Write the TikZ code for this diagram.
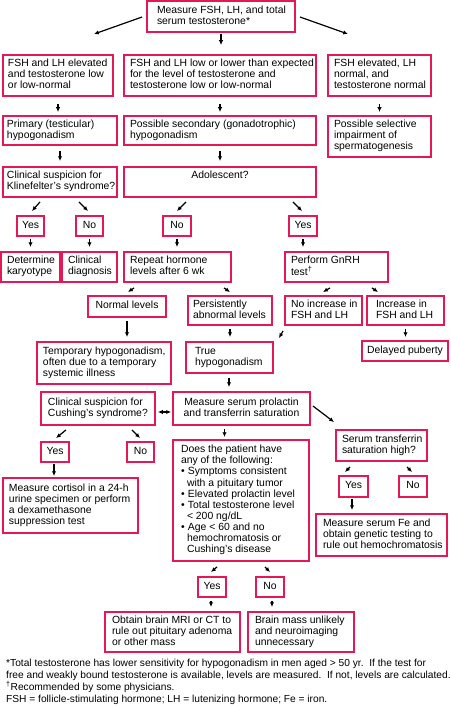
\documentclass[tikz,border=0pt]{standalone}
\usepackage{fontspec}
\setmainfont{Liberation Sans}
\usetikzlibrary{arrows.meta}
\definecolor{boxred}{RGB}{227,24,85}
\tikzset{
  box/.style={draw=boxred, line width=1.9bp, inner xsep=0pt, inner ysep=0pt,
    font=\fontsize{10.4bp}{11.1bp}\selectfont},
  arr/.style={-{Latex[length=4.8bp,width=4.3bp]}, line width=1.2bp, shorten <=3bp, shorten >=4bp},
  arrd/.style={-{Latex[length=4.8bp,width=4.3bp]}, line width=1.2bp},
  darr/.style={{Latex[length=4.8bp,width=4.3bp]}-{Latex[length=4.8bp,width=4.3bp]}, line width=1.2bp},
  foot/.style={anchor=base west, inner sep=0pt, font=\fontsize{10.2bp}{12bp}\selectfont},
}
\newcommand\boxnode[7][5]{\node[box, minimum width={(#5-#3)*1bp},
  minimum height={(#6-#4)*1bp}] (#2) at ({(#3+#5)/2},{(#4+#6)/2})
  {\hbox to \dimexpr#5bp-#3bp\relax{\hskip#1bp\relax\begin{tabular}{@{}l@{}}#7\end{tabular}\hss}};}
\newcommand\boxnodec[6]{\node[box, minimum width={(#4-#2)*1bp},
  minimum height={(#5-#3)*1bp}] (#1) at ({(#2+#4)/2},{(#3+#5)/2})
  {\begin{tabular}{@{}c@{}}#6\end{tabular}};}
\begin{document}
\begin{tikzpicture}[x=1bp,y=-1bp]
\useasboundingbox (0,0) rectangle (451,707);
% boxes
\boxnode[10]{top}{147}{1}{295}{32}{Measure FSH, LH, and total\\serum testosterone*}
\boxnode[5]{r2a}{3}{55}{113}{96}{FSH and LH elevated\\and testosterone low\\or low-normal}
\boxnode[6]{r2b}{124}{55}{316}{96}{FSH and LH low or lower than expected\\for the level of testosterone and\\testosterone low or low-normal}
\boxnode[6]{r2c}{328}{55}{431}{96}{FSH elevated, LH\\normal, and\\testosterone normal}
\boxnode[4]{r3a}{3}{116}{117}{145}{Primary (testicular)\\hypogonadism}
\boxnode[6]{r3b}{124}{116}{316}{145}{Possible secondary (gonadotrophic)\\hypogonadism}
\boxnode[6]{r3c}{328}{116}{431}{157}{Possible selective\\impairment of\\spermatogenesis}
\boxnode[4]{kl}{3}{167}{117}{197}{Clinical suspicion for\\Klinefelter's syndrome?}
\boxnodec{ado}{124}{167}{316}{197}{\raisebox{12bp}{Adolescent?}}
\boxnodec{klyes}{17}{216}{44}{236}{Yes}
\boxnodec{klno}{76}{216}{103}{236}{No}
\boxnodec{adono}{163}{216}{191}{236}{No}
\boxnodec{adoyes}{289}{216}{317}{236}{Yes}
\boxnode[6]{kary}{1}{252}{60}{282}{Determine\\karyotype}
\boxnode[6]{cdx}{62}{252}{117}{282}{Clinical\\diagnosis}
\boxnode[6]{rep}{124}{252}{231}{282}{Repeat hormone\\levels after 6 wk}
\boxnode[6]{gnrh}{285}{252}{388}{282}{Perform GnRH\\test\textsuperscript{†}}
\boxnodec{norm}{88}{296}{166}{317}{Normal levels}
\boxnode[5]{pers}{188}{296}{272}{325}{Persistently\\abnormal levels}
\boxnode[6]{noinc}{285}{296}{362}{325}{No increase in\\FSH and LH}
\boxnode[9]{inc}{367}{296}{444}{325}{Increase in\\FSH and LH}
\boxnode[6]{temp}{37}{342}{171}{384}{Temporary hypogonadism,\\often due to a temporary\\systemic illness}
\boxnode[9]{true}{186}{342}{273}{373}{True\\hypogonadism}
\boxnodec{delay}{362}{341}{448}{361}{Delayed puberty}
\boxnode[7]{cush}{41}{392}{155}{425}{Clinical suspicion for\\Cushing's syndrome?}
\boxnodec{prl}{173}{392}{310}{425}{Measure serum prolactin\\and transferrin saturation}
\boxnodec{cyes}{41}{442}{69}{462}{Yes}
\boxnodec{cno}{127}{442}{154}{462}{No}
\boxnode[8]{does}{173}{440}{309}{561}{Does the patient have\\any of the following:\\\makebox[7bp][l]{•}Symptoms consistent\\\hspace*{6bp}with a pituitary tumor\\\makebox[7bp][l]{•}Elevated prolactin level\\\makebox[7bp][l]{•}Total testosterone level\\\hspace*{6bp}< 200 ng/dL\\\makebox[7bp][l]{•}Age < 60 and no\\\hspace*{6bp}hemochromatosis or\\\hspace*{6bp}Cushing's disease}
\boxnode[6]{tsat}{336}{430}{427}{461}{Serum transferrin\\saturation high?}
\boxnodec{tyes}{339}{476}{368}{497}{Yes}
\boxnodec{tno}{399}{476}{427}{497}{No}
\boxnode[6]{cort}{3}{478}{138}{533}{Measure cortisol in a 24-h\\urine specimen or perform\\a dexamethasone\\suppression test}
\boxnode[7]{fe}{316}{514}{447}{556}{Measure serum Fe and\\obtain genetic testing to\\rule out hemochromatosis}
\boxnodec{dyes}{198}{577}{226}{597}{Yes}
\boxnodec{dno}{256}{577}{284}{597}{No}
\boxnode[7]{mri}{105}{612}{240}{652}{Obtain brain MRI or CT to\\rule out pituitary adenoma\\or other mass}
\boxnode[7]{bm}{248}{612}{354}{652}{Brain mass unlikely\\and neuroimaging\\unnecessary}
% footnotes
\node[foot] (f1) at (6,666.5) {*Total testosterone has lower sensitivity for hypogonadism in men aged > 50 yr.\ \ If the test for};
\node[foot] (f2) at (6,678.5) {free and weakly bound testosterone is available, levels are measured.\ \ If not, levels are calculated.};
\node[foot] (f3) at (6,690) {\textsuperscript{†}Recommended by some physicians.};
\node[foot] (f4) at (6,702) {FSH = follicle-stimulating hormone; LH = lutenizing hormone; Fe = iron.};
% arrows
\draw[arrd] ([shift={(-4,0.5)}]top.west) -- ([shift={(36,-20)}]r2a.north);
\draw[arr,shorten <=1bp,shorten >=9bp] (top.south) -- (top.south |- r2b.north);
\draw[arrd] ([shift={(4,0.5)}]top.east) -- ([shift={(-31.5,-20)}]r2c.north);
\draw[arr,shorten <=7bp,shorten >=3bp] (r2a.south) -- (r2a.south |- r3a.north);
\draw[arr,shorten <=7bp,shorten >=3bp] (r2b.south) -- (r2b.south |- r3b.north);
\draw[arr,shorten <=7bp,shorten >=3bp] (r2c.south) -- (r2c.south |- r3c.north);
\draw[arr,shorten <=5bp,shorten >=5bp] (r3a.south) -- (r3a.south |- kl.north);
\draw[arr,shorten <=5bp,shorten >=5bp] (r3b.south) -- (r3b.south |- ado.north);
\draw[arrd] ([shift={(-20,4)}]kl.south) -- ([shift={(1.5,-4)}]klyes.north);
\draw[arrd] ([shift={(19,4)}]kl.south) -- ([shift={(-1.5,-4)}]klno.north);
\draw[arrd] ([shift={(-34,4)}]ado.south) -- ([shift={(0,-4)}]adono.north);
\draw[arrd] ([shift={(73,4)}]ado.south) -- ([shift={(-1,-4)}]adoyes.north);
\draw[arr,shorten <=2bp,shorten >=4bp] (klyes.south) -- (klyes.south |- kary.north);
\draw[arr,shorten <=2bp,shorten >=4bp] (klno.south) -- (klno.south |- cdx.north);
\draw[arr,shorten <=2bp,shorten >=4bp] (adono.south) -- (adono.south |- rep.north);
\draw[arr,shorten <=2bp,shorten >=4bp] (adoyes.south) -- (adoyes.south |- gnrh.north);
\draw[arrd] ([shift={(-43.5,5)}]rep.south) -- ([shift={(1,-3)}]norm.north);
\draw[arrd] ([shift={(46.5,5)}]rep.south) -- ([shift={(0,-3)}]pers.north);
\draw[arrd] ([shift={(-6.5,5)}]gnrh.south) -- ([shift={(-0.5,-3)}]noinc.north);
\draw[arrd] ([shift={(35.5,5)}]gnrh.south) -- ([shift={(-27.5,-3)}]inc.north);
\draw[arr,shorten <=3bp,shorten >=4bp] (norm.south) -- (norm.south |- temp.north);
\draw[arr,shorten <=3bp,shorten >=4bp] (pers.south) -- (pers.south |- true.north);
\draw[arrd] ([shift={(-1,5)}]noinc.south west) -- ([shift={(5,-3)}]true.north east);
\draw[arr,shorten <=3bp,shorten >=3bp] (inc.south) -- (inc.south |- delay.north);
\draw[arr,shorten <=4bp,shorten >=4bp] ([xshift=-0.5bp]true.south) -- ([xshift=-0.5bp]true.south |- prl.north);
\draw[darr] ([shift={(2,3.5)}]cush.east) -- ([shift={(-1,3.5)}]prl.west);
\draw[arrd] ([shift={(2,-2.5)}]prl.east) -- ([shift={(-1,-7)}]tsat.north west);
\draw[arrd] ([shift={(-32,4)}]cush.south) -- ([shift={(1,-3)}]cyes.north);
\draw[arrd] ([shift={(34,4)}]cush.south) -- ([shift={(-0.5,-3)}]cno.north);
\draw[arr,shorten <=3bp,shorten >=2bp] ([xshift=-17bp]prl.south) -- ([xshift=-17bp]prl.south |- does.north);
\draw[arrd] ([shift={(-31.5,5)}]tsat.south) -- ([shift={(-8.5,-3)}]tyes.north);
\draw[arrd] ([shift={(25.5,5)}]tsat.south) -- ([shift={(-1,-3)}]tno.north);
\draw[arr,shorten <=1bp,shorten >=1bp] ([xshift=-1bp]cyes.south) -- ([xshift=-1bp]cyes.south |- cort.north);
\draw[arr,shorten <=1bp,shorten >=3bp] ([xshift=-1.5bp]tyes.south) -- ([xshift=-1.5bp]tyes.south |- fe.north);
\draw[arrd] ([shift={(-24,5)}]does.south) -- ([shift={(-1,-4)}]dyes.north);
\draw[arrd] ([shift={(24,5)}]does.south) -- ([shift={(0,-4)}]dno.north);
\draw[arr,shorten <=3bp,shorten >=4bp] ([xshift=-1bp]dyes.south) -- ([xshift=-1bp]dyes.south |- mri.north);
\draw[arr,shorten <=3bp,shorten >=4bp] ([xshift=2bp]dno.south) -- ([xshift=2bp]dno.south |- bm.north);
\end{tikzpicture}
\end{document}
